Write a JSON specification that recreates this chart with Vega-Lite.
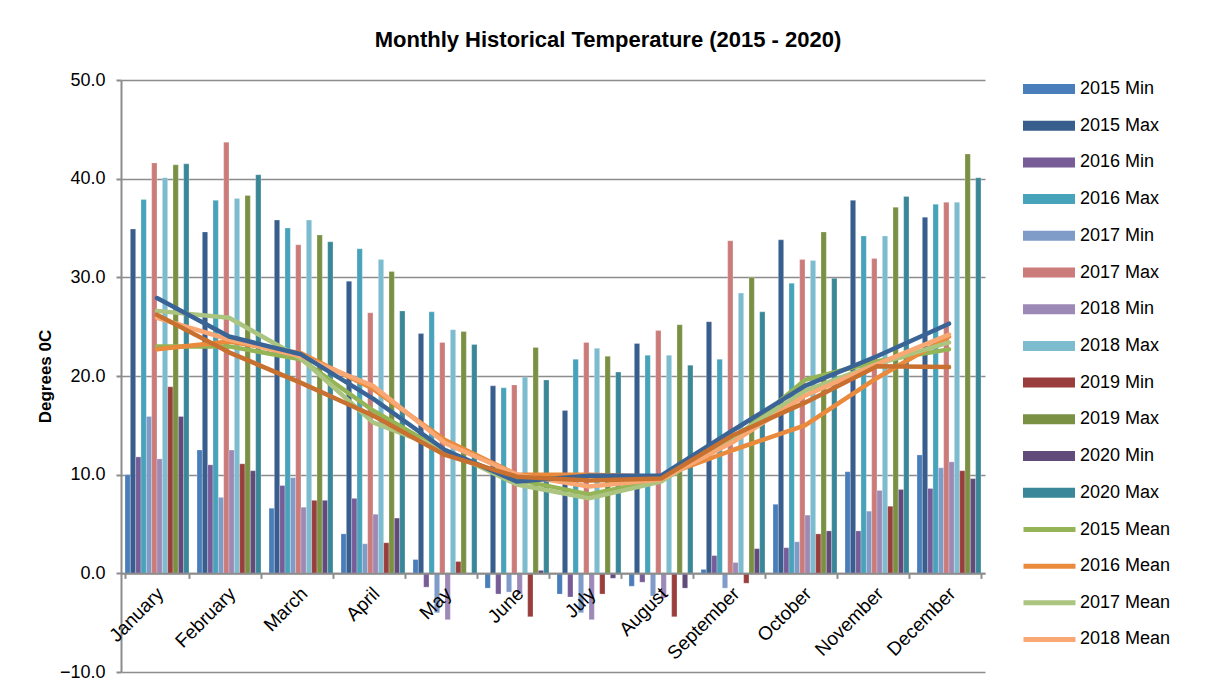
{
"$schema": "https://vega.github.io/schema/vega-lite/v6.json",
"width": 864, "height": 592,
"autosize": {"type": "none"},
"padding": {"left": 121, "top": 80, "right": 221, "bottom": 23},
"background": "white",
"title": {"text": "Monthly Historical Temperature (2015 - 2020)", "font": "Liberation Sans", "fontSize": 22, "fontWeight": "bold", "color": "black", "anchor": "middle", "dx": 55, "offset": 19},
"config": {"view": {"stroke": null}, "font": "Liberation Sans"},
"datasets": {
"bars": [
{"month":"January","series":"2015 Min","value":10.0},{"month":"January","series":"2015 Max","value":34.9},{"month":"January","series":"2016 Min","value":11.8},{"month":"January","series":"2016 Max","value":37.9},{"month":"January","series":"2017 Min","value":15.9},{"month":"January","series":"2017 Max","value":41.6},{"month":"January","series":"2018 Min","value":11.6},{"month":"January","series":"2018 Max","value":40.1},{"month":"January","series":"2019 Min","value":18.9},{"month":"January","series":"2019 Max","value":41.4},{"month":"January","series":"2020 Min","value":15.9},{"month":"January","series":"2020 Max","value":41.5},
{"month":"February","series":"2015 Min","value":12.5},{"month":"February","series":"2015 Max","value":34.6},{"month":"February","series":"2016 Min","value":11.0},{"month":"February","series":"2016 Max","value":37.8},{"month":"February","series":"2017 Min","value":7.7},{"month":"February","series":"2017 Max","value":43.7},{"month":"February","series":"2018 Min","value":12.5},{"month":"February","series":"2018 Max","value":38.0},{"month":"February","series":"2019 Min","value":11.1},{"month":"February","series":"2019 Max","value":38.3},{"month":"February","series":"2020 Min","value":10.4},{"month":"February","series":"2020 Max","value":40.4},
{"month":"March","series":"2015 Min","value":6.6},{"month":"March","series":"2015 Max","value":35.8},{"month":"March","series":"2016 Min","value":8.9},{"month":"March","series":"2016 Max","value":35.0},{"month":"March","series":"2017 Min","value":9.7},{"month":"March","series":"2017 Max","value":33.3},{"month":"March","series":"2018 Min","value":6.7},{"month":"March","series":"2018 Max","value":35.8},{"month":"March","series":"2019 Min","value":7.4},{"month":"March","series":"2019 Max","value":34.3},{"month":"March","series":"2020 Min","value":7.4},{"month":"March","series":"2020 Max","value":33.6},
{"month":"April","series":"2015 Min","value":4.0},{"month":"April","series":"2015 Max","value":29.6},{"month":"April","series":"2016 Min","value":7.6},{"month":"April","series":"2016 Max","value":32.9},{"month":"April","series":"2017 Min","value":3.0},{"month":"April","series":"2017 Max","value":26.4},{"month":"April","series":"2018 Min","value":6.0},{"month":"April","series":"2018 Max","value":31.8},{"month":"April","series":"2019 Min","value":3.1},{"month":"April","series":"2019 Max","value":30.6},{"month":"April","series":"2020 Min","value":5.6},{"month":"April","series":"2020 Max","value":26.6},
{"month":"May","series":"2015 Min","value":1.4},{"month":"May","series":"2015 Max","value":24.3},{"month":"May","series":"2016 Min","value":-1.4},{"month":"May","series":"2016 Max","value":26.5},{"month":"May","series":"2017 Min","value":-4.0},{"month":"May","series":"2017 Max","value":23.4},{"month":"May","series":"2018 Min","value":-4.7},{"month":"May","series":"2018 Max","value":24.7},{"month":"May","series":"2019 Min","value":1.2},{"month":"May","series":"2019 Max","value":24.5},{"month":"May","series":"2020 Min","value":0.0},{"month":"May","series":"2020 Max","value":23.2},
{"month":"June","series":"2015 Min","value":-1.5},{"month":"June","series":"2015 Max","value":19.0},{"month":"June","series":"2016 Min","value":-2.1},{"month":"June","series":"2016 Max","value":18.8},{"month":"June","series":"2017 Min","value":-1.9},{"month":"June","series":"2017 Max","value":19.1},{"month":"June","series":"2018 Min","value":-2.1},{"month":"June","series":"2018 Max","value":19.9},{"month":"June","series":"2019 Min","value":-4.4},{"month":"June","series":"2019 Max","value":22.9},{"month":"June","series":"2020 Min","value":0.3},{"month":"June","series":"2020 Max","value":19.6},
{"month":"July","series":"2015 Min","value":-2.1},{"month":"July","series":"2015 Max","value":16.5},{"month":"July","series":"2016 Min","value":-2.4},{"month":"July","series":"2016 Max","value":21.7},{"month":"July","series":"2017 Min","value":-4.0},{"month":"July","series":"2017 Max","value":23.4},{"month":"July","series":"2018 Min","value":-4.7},{"month":"July","series":"2018 Max","value":22.8},{"month":"July","series":"2019 Min","value":-2.1},{"month":"July","series":"2019 Max","value":22.0},{"month":"July","series":"2020 Min","value":-0.5},{"month":"July","series":"2020 Max","value":20.4},
{"month":"August","series":"2015 Min","value":-1.3},{"month":"August","series":"2015 Max","value":23.3},{"month":"August","series":"2016 Min","value":-0.9},{"month":"August","series":"2016 Max","value":22.1},{"month":"August","series":"2017 Min","value":-2.3},{"month":"August","series":"2017 Max","value":24.6},{"month":"August","series":"2018 Min","value":-2.5},{"month":"August","series":"2018 Max","value":22.1},{"month":"August","series":"2019 Min","value":-4.4},{"month":"August","series":"2019 Max","value":25.2},{"month":"August","series":"2020 Min","value":-1.5},{"month":"August","series":"2020 Max","value":21.1},
{"month":"September","series":"2015 Min","value":0.4},{"month":"September","series":"2015 Max","value":25.5},{"month":"September","series":"2016 Min","value":1.8},{"month":"September","series":"2016 Max","value":21.7},{"month":"September","series":"2017 Min","value":-1.5},{"month":"September","series":"2017 Max","value":33.7},{"month":"September","series":"2018 Min","value":1.1},{"month":"September","series":"2018 Max","value":28.4},{"month":"September","series":"2019 Min","value":-1.0},{"month":"September","series":"2019 Max","value":30.0},{"month":"September","series":"2020 Min","value":2.5},{"month":"September","series":"2020 Max","value":26.5},
{"month":"October","series":"2015 Min","value":7.0},{"month":"October","series":"2015 Max","value":33.8},{"month":"October","series":"2016 Min","value":2.6},{"month":"October","series":"2016 Max","value":29.4},{"month":"October","series":"2017 Min","value":3.2},{"month":"October","series":"2017 Max","value":31.8},{"month":"October","series":"2018 Min","value":5.9},{"month":"October","series":"2018 Max","value":31.7},{"month":"October","series":"2019 Min","value":4.0},{"month":"October","series":"2019 Max","value":34.6},{"month":"October","series":"2020 Min","value":4.3},{"month":"October","series":"2020 Max","value":29.9},
{"month":"November","series":"2015 Min","value":10.3},{"month":"November","series":"2015 Max","value":37.8},{"month":"November","series":"2016 Min","value":4.3},{"month":"November","series":"2016 Max","value":34.2},{"month":"November","series":"2017 Min","value":6.3},{"month":"November","series":"2017 Max","value":31.9},{"month":"November","series":"2018 Min","value":8.4},{"month":"November","series":"2018 Max","value":34.2},{"month":"November","series":"2019 Min","value":6.8},{"month":"November","series":"2019 Max","value":37.1},{"month":"November","series":"2020 Min","value":8.5},{"month":"November","series":"2020 Max","value":38.2},
{"month":"December","series":"2015 Min","value":12.0},{"month":"December","series":"2015 Max","value":36.1},{"month":"December","series":"2016 Min","value":8.6},{"month":"December","series":"2016 Max","value":37.4},{"month":"December","series":"2017 Min","value":10.7},{"month":"December","series":"2017 Max","value":37.6},{"month":"December","series":"2018 Min","value":11.3},{"month":"December","series":"2018 Max","value":37.6},{"month":"December","series":"2019 Min","value":10.4},{"month":"December","series":"2019 Max","value":42.5},{"month":"December","series":"2020 Min","value":9.6},{"month":"December","series":"2020 Max","value":40.1}
],
"lines": [
{"month":"January","series":"2015 Mean","value":23.0},{"month":"February","series":"2015 Mean","value":23.0},{"month":"March","series":"2015 Mean","value":21.7},{"month":"April","series":"2015 Mean","value":16.5},{"month":"May","series":"2015 Mean","value":12.3},{"month":"June","series":"2015 Mean","value":9.5},{"month":"July","series":"2015 Mean","value":8.0},{"month":"August","series":"2015 Mean","value":9.5},{"month":"September","series":"2015 Mean","value":13.5},{"month":"October","series":"2015 Mean","value":19.6},{"month":"November","series":"2015 Mean","value":21.5},{"month":"December","series":"2015 Mean","value":22.7},
{"month":"January","series":"2016 Mean","value":22.7},{"month":"February","series":"2016 Mean","value":23.5},{"month":"March","series":"2016 Mean","value":22.3},{"month":"April","series":"2016 Mean","value":18.7},{"month":"May","series":"2016 Mean","value":13.5},{"month":"June","series":"2016 Mean","value":10.0},{"month":"July","series":"2016 Mean","value":10.0},{"month":"August","series":"2016 Mean","value":9.8},{"month":"September","series":"2016 Mean","value":12.5},{"month":"October","series":"2016 Mean","value":15.0},{"month":"November","series":"2016 Mean","value":19.8},{"month":"December","series":"2016 Mean","value":24.0},
{"month":"January","series":"2017 Mean","value":26.6},{"month":"February","series":"2017 Mean","value":25.9},{"month":"March","series":"2017 Mean","value":21.8},{"month":"April","series":"2017 Mean","value":15.3},{"month":"May","series":"2017 Mean","value":12.5},{"month":"June","series":"2017 Mean","value":9.0},{"month":"July","series":"2017 Mean","value":7.6},{"month":"August","series":"2017 Mean","value":9.3},{"month":"September","series":"2017 Mean","value":13.8},{"month":"October","series":"2017 Mean","value":18.5},{"month":"November","series":"2017 Mean","value":21.2},{"month":"December","series":"2017 Mean","value":23.4},
{"month":"January","series":"2018 Mean","value":25.9},{"month":"February","series":"2018 Mean","value":23.7},{"month":"March","series":"2018 Mean","value":22.0},{"month":"April","series":"2018 Mean","value":19.0},{"month":"May","series":"2018 Mean","value":13.2},{"month":"June","series":"2018 Mean","value":10.0},{"month":"July","series":"2018 Mean","value":8.8},{"month":"August","series":"2018 Mean","value":9.5},{"month":"September","series":"2018 Mean","value":13.3},{"month":"October","series":"2018 Mean","value":18.0},{"month":"November","series":"2018 Mean","value":21.2},{"month":"December","series":"2018 Mean","value":24.2},
{"month":"January","series":"2019 Mean","value":27.9},{"month":"February","series":"2019 Mean","value":24.0},{"month":"March","series":"2019 Mean","value":22.2},{"month":"April","series":"2019 Mean","value":17.7},{"month":"May","series":"2019 Mean","value":12.5},{"month":"June","series":"2019 Mean","value":9.3},{"month":"July","series":"2019 Mean","value":9.9},{"month":"August","series":"2019 Mean","value":9.9},{"month":"September","series":"2019 Mean","value":14.5},{"month":"October","series":"2019 Mean","value":19.0},{"month":"November","series":"2019 Mean","value":22.0},{"month":"December","series":"2019 Mean","value":25.3},
{"month":"January","series":"2020 Mean","value":26.2},{"month":"February","series":"2020 Mean","value":22.4},{"month":"March","series":"2020 Mean","value":19.3},{"month":"April","series":"2020 Mean","value":16.0},{"month":"May","series":"2020 Mean","value":12.0},{"month":"June","series":"2020 Mean","value":9.8},{"month":"July","series":"2020 Mean","value":9.4},{"month":"August","series":"2020 Mean","value":9.6},{"month":"September","series":"2020 Mean","value":14.0},{"month":"October","series":"2020 Mean","value":17.3},{"month":"November","series":"2020 Mean","value":21.0},{"month":"December","series":"2020 Mean","value":20.9}
]
},
"layer": [
{
"data": {"name": "bars"},
"mark": {"type": "bar", "stroke": "white", "strokeWidth": 0.5, "strokeOpacity": 0.5},
"encoding": {
"x": {"field": "month", "type": "nominal", "sort": ["January","February","March","April","May","June","July","August","September","October","November","December"], "scale": {"paddingInner": 0.1111, "paddingOuter": 0.0556},
"axis": {"title": null, "offset": -98.667, "domainColor": "#8C8C8C", "domainWidth": 2, "tickColor": "#8C8C8C", "tickWidth": 2, "tickSize": 5, "tickBand": "extent", "labelAngle": -45, "labelAlign": "right", "labelBaseline": "middle", "labelPadding": 12, "labelOffset": 3, "labelFont": "Liberation Sans", "labelFontSize": 19, "labelColor": "black", "grid": false, "zindex": 1}},
"xOffset": {"field": "series", "type": "nominal", "sort": ["2015 Min","2015 Max","2016 Min","2016 Max","2017 Min","2017 Max","2018 Min","2018 Max","2019 Min","2019 Max","2020 Min","2020 Max"], "scale": {"paddingInner": 0, "paddingOuter": 0}},
"y": {"field": "value", "type": "quantitative", "scale": {"domain": [-10, 50], "nice": false},
"axis": {"title": "Degrees 0C", "values": [-10,0,10,20,30,40,50], "format": ".1f", "grid": true, "gridColor": "#8C8C8C", "gridWidth": 1.5, "domainColor": "#8C8C8C", "domainWidth": 2, "tickColor": "#8C8C8C", "tickWidth": 2, "tickSize": 5, "labelFont": "Liberation Sans", "labelFontSize": 18, "labelColor": "black", "labelPadding": 11, "titleFont": "Liberation Sans", "titleFontSize": 17, "titleFontWeight": "bold", "titleColor": "black", "titleX": -76, "titleBaseline": "middle", "titleAngle": -90}},
"fill": {"field": "series", "type": "nominal",
"scale": {"domain": ["2015 Min","2015 Max","2016 Min","2016 Max","2017 Min","2017 Max","2018 Min","2018 Max","2019 Min","2019 Max","2020 Min","2020 Max"],
"range": ["#4A7EBB","#385E8E","#775C98","#46A3BA","#7F9CC9","#CB7B7A","#9D89B5","#7DBCCF","#9A3D3D","#7A9143","#614B7B","#3A8799"]},
"legend": {"title": null, "orient": "none", "legendX": 915, "legendY": -4, "padding": 0,
"symbolType": "M-2,-0.385H2V0.385H-2Z", "symbolSize": 676, "symbolStrokeWidth": 0, "labelFont": "Liberation Sans", "labelFontSize": 18, "labelColor": "black", "labelOffset": 18, "rowPadding": 14.7, "labelLimit": 200}
}
}
},
{
"data": {"name": "lines"},
"mark": {"type": "line", "strokeWidth": 4.5, "strokeCap": "round", "strokeJoin": "round"},
"encoding": {
"x": {"field": "month", "type": "nominal", "sort": ["January","February","March","April","May","June","July","August","September","October","November","December"]},
"y": {"field": "value", "type": "quantitative"},
"stroke": {"field": "series", "type": "nominal",
"scale": {"domain": ["2015 Mean","2016 Mean","2017 Mean","2018 Mean","2019 Mean","2020 Mean"],
"range": ["#94B455","#E98A3D","#ABC47F","#F9A874","#3B6496","#C8702F"]},
"legend": {"title": null, "orient": "none", "legendX": 913, "legendY": 434.1, "padding": 0,
"values": ["2015 Mean","2016 Mean","2017 Mean","2018 Mean"],
"symbolType": "M-2,0H2", "symbolSize": 676, "symbolStrokeWidth": 5, "symbolFillColor": "transparent", "labelFont": "Liberation Sans", "labelFontSize": 18, "labelColor": "black", "labelOffset": 15, "rowPadding": 10.6, "labelLimit": 200}
}
}
}
]
}
